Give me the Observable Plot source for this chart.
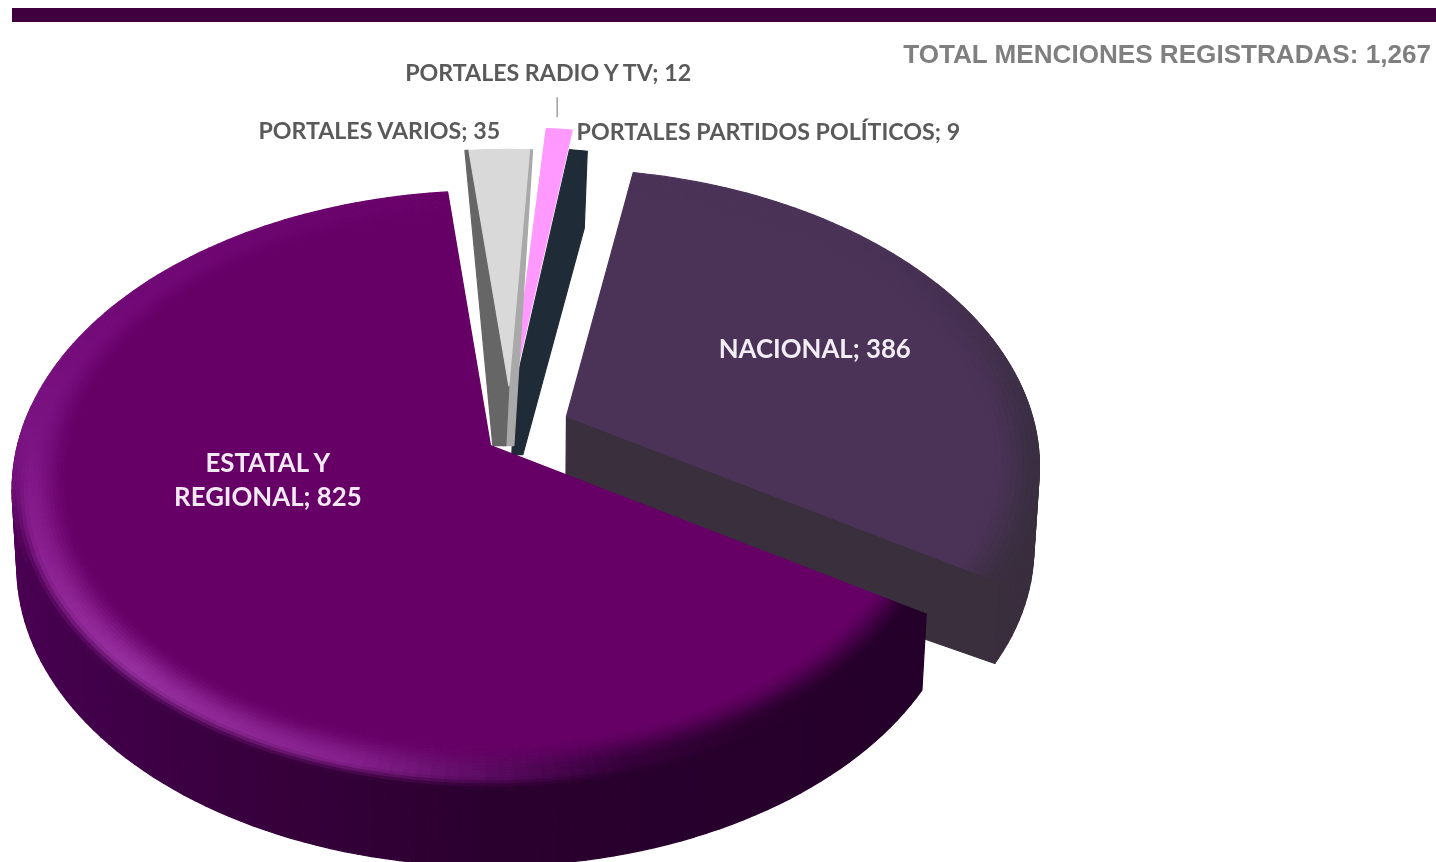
<!DOCTYPE html>
<html><head><meta charset="utf-8">
<script src="https://cdn.jsdelivr.net/npm/d3@7"></script>
<script src="https://cdn.jsdelivr.net/npm/@observablehq/plot@0.6"></script>
<style>
html,body{margin:0;padding:0;background:#fff;width:1436px;height:862px;overflow:hidden}
#wrap{position:relative;width:1436px;height:862px}
#bar{position:absolute;left:12px;right:0;top:8px;height:13.5px;background:#400040;filter:blur(.4px)}
#total{position:absolute;right:5px;top:39px;font:700 26.1px "Liberation Sans",Arial,sans-serif;color:#7f7f7f;white-space:nowrap;filter:blur(.6px)}
svg{display:block;filter:blur(.7px)}
</style></head><body>
<div id="wrap"><div id="bar"></div><div id="total"></div><div id="chart"></div></div>
<script>
// ---- data ----
const categories = ["ESTATAL Y\nREGIONAL", "PORTALES VARIOS", "PORTALES RADIO Y TV", "PORTALES PARTIDOS POLÍTICOS", "NACIONAL"];
const values = [825, 35, 12, 9, 386];
const totalLabel = "TOTAL MENCIONES REGISTRADAS";
const faceColors = ["#660066", "#d9d9d9", "#ff99ff", "#1f2b36", "#4b3358"];

// ---- 3-D pie view ----
const W = 1436, H = 862, CX = 490, CY = 445, RX = 473, RY = 293, K = 0.15, ROT = 120.5;
const explode = [
  {u: 0, v: 0, r: 1.0, trim0: 1.5, trim1: -.9},
  {u: .04, v: .211, r: .98, trim0: -.4, trim1: -1.5},
  {u: .047, v: .19, r: 1.105, trim0: 0, trim1: 0},
  {u: .053, v: .2, r: 1.0, trim0: 0, trim1: 0},
  {u: .163, v: .1005, r: 1.0, trim0: 0, trim1: 2}
];
const total = d3.sum(values);
document.getElementById("total").textContent = `${totalLabel}: ${d3.format(",")(total)}`;
let acc = ROT;
const slices = categories.map((name, i) => {
  const a0 = acc, a1 = acc + values[i] / total * 360;
  acc = a1;
  return {name, value: values[i], ...explode[i], a0: a0 + explode[i].trim0, a1: a1 + explode[i].trim1, color: faceColors[i]};
});
const rad = Math.PI / 180;
function P(s, th, r) {
  const U = s.u + r * s.r * Math.sin(th * rad), V = s.v + r * s.r * Math.cos(th * rad), d = 1 + K * V;
  return [CX + RX * U / d, CY - RY * V / d];
}
const low = (p, d) => [CX + (p[0] - CX) * 0.99, p[1] + d];
const shift = (p, dx, dy) => [p[0] + dx, p[1] + dy];

const polys = [];
let pid = 0;
function poly(pts, c) { const id = pid++; for (const [x, y] of pts) polys.push({id, x, y, c}); }
const range = (a, b, st) => { const o = d3.range(a, b, st); o.push(b); return o; };
const smooth = t => { t = Math.max(0, Math.min(1, t)); return t * t * (3 - 2 * t); };
const mix = (a, b, t) => d3.interpolateRgb(a, b)(t);

function wedge(s, r1 = 1) {
  const pts = [P(s, 0, 0)];
  for (const th of range(s.a0, s.a1, 1)) pts.push(P(s, th, r1));
  return pts;
}
function wallBand(s, a, b, d, colorAt) {
  const ths = range(a, b, 1.5);
  for (let i = 0; i < ths.length - 1; i++) {
    const p0 = P(s, ths[i], 1), p1 = P(s, ths[i + 1], 1);
    poly([p0, p1, low(p1, d), low(p0, d)], colorAt((ths[i] + ths[i + 1]) / 2));
  }
}
function bevel(s, r0, n, colorAt) {
  const ths = range(s.a0, s.a1, 1.5);
  for (let j = 0; j < n; j++) {
    const t0 = j / n, t1 = (j + 1) / n;
    const ra = r0 + (1 - r0) * t0, rb = r0 + (1 - r0) * t1;
    for (let i = 0; i < ths.length - 1; i++) {
      poly([P(s, ths[i], ra), P(s, ths[i + 1], ra), P(s, ths[i + 1], rb), P(s, ths[i], rb)],
        colorAt((ths[i] + ths[i + 1]) / 2, (t0 + t1) / 2));
    }
  }
}

const [sE, sV, sR, sP, sN] = slices;
// Nacional (farthest back)
const natDepthRim = 81, natDepthApex = 97;
{
  const A = P(sN, 0, 0), R = P(sN, sN.a1, 1);
  poly([A, R, low(R, natDepthRim), low(A, natDepthApex)], "#3a2f3c");
  wallBand(sN, 420, sN.a1, natDepthRim, () => "#392e3d");
  poly(wedge(sN, .9), sN.color);
  const edge = d3.scaleLinear().domain([10, 40, 70, 95, 122]).range(["#4b3358", "#4b3358", "#44304f", "#3a2f42", "#3a2f40"]).clamp(true);
  bevel(sN, .9, 9, (th, t) => mix(sN.color, edge(th - 360), smooth(t)));
}
// Thin slices
{
  const A = P(sP, 0, 0), Rb = P(sP, sP.a1, 1);
  poly([A, Rb, shift(Rb, -3, 77), shift(A, 8, 66), shift(A, -3, 66)], sP.color);
  poly(wedge(sP), sP.color);
}
poly(wedge(sR), sR.color);
{
  const A = P(sV, 0, 0), Ra = P(sV, sV.a0, 1), Rb = P(sV, sV.a1, 1);
  poly([A, Rb, shift(Rb, 3, 0), shift(A, 5, 60), shift(A, -7, 60)], "#a9a9a9");
  poly([A, Ra, shift(Ra, -4, 0), shift(A, -16, 60), shift(A, -3, 60)], "#666666");
  poly(wedge(sV), sV.color);
}
// Estatal (front)
{
  const wallC = d3.scaleLinear().domain([120, 180, 200, 230, 258, 275]).range(["#24002a", "#2a002e", "#35003a", "#42004a", "#4c0054", "#5a0062"]).clamp(true);
  wallBand(sE, sE.a0, 278, 76, wallC);
  poly(wedge(sE, .88), sE.color);
  const edgeC = d3.scaleLinear()
    .domain([120, 150, 165, 180, 195, 225, 250, 270, 300, 355])
    .range(["#24002a", "#2a002e", "#35003a", "#5a0a60", "#85208c", "#97309f", "#8a2090", "#7d1585", "#720a78", "#680268"]).clamp(true);
  bevel(sE, .88, 16, (th, t) => {
    const e = edgeC(th);
    const c = mix(sE.color, e, smooth(t / .72));
    const wallFade = 1 - smooth((th - 245) / 30);
    return t > .72 ? mix(c, wallC(th), smooth((t - .72) / .28) * wallFade) : c;
  });
}

// labels anchored on each slice (polar position + nudge)
const labels = [
  {s: sE, r: .62, dx: 39, dy: -69, size: 25.8, text: `${sE.name}; ${sE.value}`, fill: "#f3e9f3"},
  {s: sN, r: .62, dx: -5, dy: -2, size: 25.8, text: `${sN.name}; ${sN.value}`, fill: "#f3eef5"},
  {s: sV, r: 1, dx: -120, dy: -20, size: 23.2, text: `${sV.name}; ${sV.value}`, fill: "#5a5a5a"},
  {s: sR, r: 1, dx: -11, dy: -58, size: 23.2, text: `${sR.name}; ${sR.value}`, fill: "#5a5a5a"},
  {s: sP, r: 1, dx: 190, dy: -20, size: 23.2, text: `${sP.name}; ${sP.value}`, fill: "#5a5a5a"}
];
const textMarks = labels.map(l => {
  const mid = (l.s.a0 + l.s.a1) / 2;
  const [x, y] = P(l.s, mid, l.r);
  return Plot.text([l], {x: () => x, y: () => y, text: "text", dx: l.dx, dy: l.dy, fill: l.fill,
    fontFamily: "Lato", fontWeight: 700, fontSize: l.size, lineHeight: 1.32, textAnchor: "middle", letterSpacing: "-.2px"});
});
const radioTop = P(sR, (sR.a0 + sR.a1) / 2, 1);

const chart = Plot.plot({
  width: W, height: H, margin: 0,
  x: {domain: [0, W], axis: null},
  y: {domain: [H, 0], axis: null},
  color: {type: "identity"},
  marks: [
    Plot.line(polys, {x: "x", y: "y", z: "id", fill: "c", stroke: "c", strokeWidth: 1.2, curve: "linear-closed"}),
    Plot.link([radioTop], {x1: d => d[0] - 2, x2: d => d[0] - 2, y1: d => d[1] - 12, y2: d => d[1] - 32, stroke: "#a0a0a0", strokeWidth: 1.5}),
    ...textMarks
  ]
});
document.getElementById("chart").appendChild(chart);
</script>
</body></html>
